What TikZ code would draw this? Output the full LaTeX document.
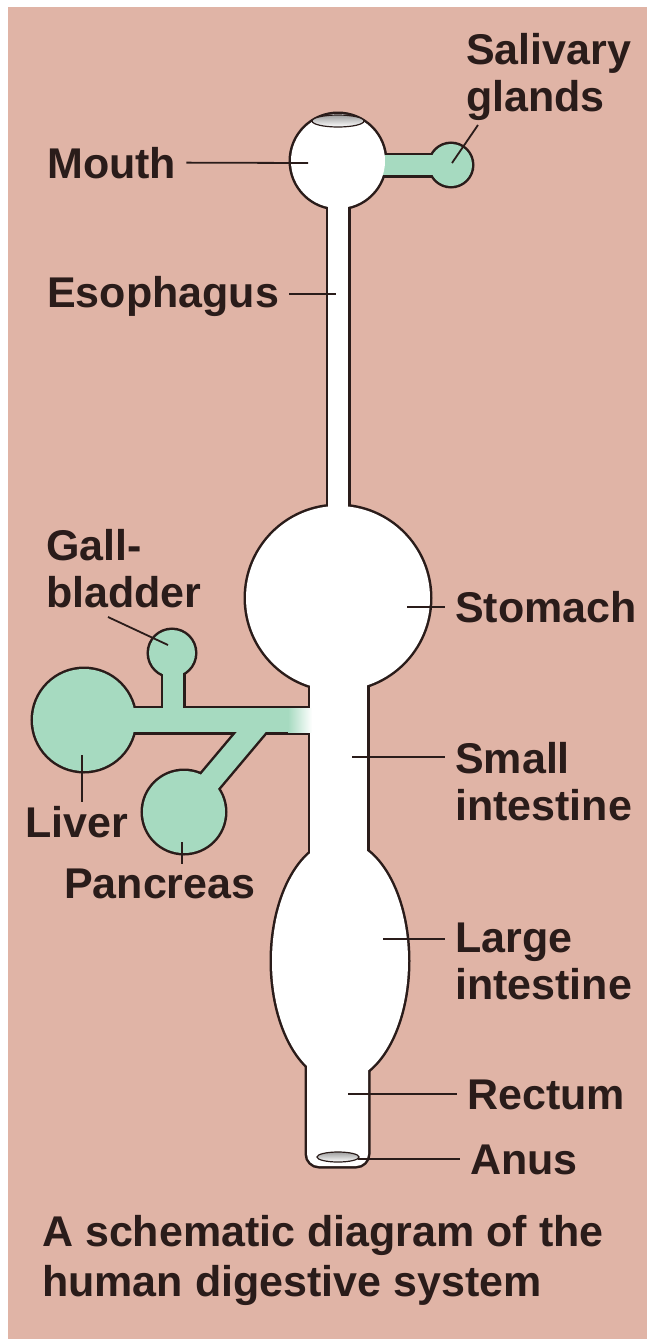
\documentclass[tikz,border=0pt]{standalone}
\usepackage{fontspec}
\setmainfont{Liberation Sans}
\usetikzlibrary{positioning}

\definecolor{skin}{RGB}{224,180,166}
\definecolor{duct}{RGB}{166,218,192}
\definecolor{ink}{RGB}{42,28,26}

\begin{document}
\begin{tikzpicture}[x=1pt, y=-1pt,
  wall/.style={draw=ink, line width=5pt},
  cavity/.style={fill=white},
  gland/.style={fill=duct},
  hole/.style={draw=ink, line width=1.2pt, top color=gray!75, bottom color=white},
  lbl/.style={font=\fontsize{43}{47}\selectfont\bfseries, text=ink, inner xsep=10pt, inner ysep=4pt, align=left},
  lead/.style={draw=ink, line width=1.8pt}]
\useasboundingbox (0,0) rectangle (647,1339);
\fill[white] (0,0) rectangle (647,1339);
\fill[skin] (8,7) rectangle (647,1339);

% outlines first, the fills below cover their inner half
\draw[wall] (338,161) circle (47);
\draw[wall] (328,190) rectangle (348,520);
\draw[wall] (338,598) circle (92);
\draw[wall] (310,660) rectangle (367,880);
\draw[wall] (340,961) ellipse (68 and 120);
\draw[wall, rounded corners=12] (307,1040) rectangle (368,1166);
\draw[wall] (375,155) rectangle (435,175);
\draw[wall] (451,165) circle (21);
\draw[wall] (84,720) circle (51);
\draw[wall] (120,708) rectangle (312,732);
\draw[wall] (172,653) circle (23);
\draw[wall] (163,660) rectangle (183,715);
\draw[wall] (184,812) circle (41);
\draw[draw=ink, line width=27pt] (258,724) -- (184,812);

% glands and ducts
\fill[gland] (375,155) rectangle (435,175);
\fill[gland] (451,165) circle (21);
\fill[gland] (84,720) circle (51);
\fill[gland] (120,708) rectangle (312,732);
\fill[gland] (172,653) circle (23);
\fill[gland] (163,660) rectangle (183,715);
\fill[gland] (184,812) circle (41);
\draw[draw=duct, line width=22pt] (258,724) -- (184,812);

% the tract
\fill[cavity] (338,161) circle (47);
\fill[cavity] (328,190) rectangle (348,520);
\fill[cavity] (338,598) circle (92);
\fill[cavity] (310,660) rectangle (367,880);
\fill[cavity] (340,961) ellipse (68 and 120);
\fill[cavity, rounded corners=12] (307,1040) rectangle (368,1166);
\shade[left color=duct, right color=white] (288,708) rectangle (312,732);

\draw[hole] (338,121) ellipse (26 and 6);
\draw[hole] (338,1157) ellipse (21 and 5);

% labels
\coordinate (mouth-in) at (308,163);
\coordinate (gland-in) at (452,163);
\coordinate (gland-out) at (478,125);
\coordinate (eso-in) at (336,294);
\coordinate (gall-in) at (168,645);
\coordinate (gall-out) at (108,617);
\coordinate (sto-in) at (407,607);
\coordinate (liver-in) at (82,755);
\coordinate (panc-in) at (182,842);
\coordinate (small-in) at (352,757);
\coordinate (large-in) at (383,939);
\coordinate (rect-in) at (348,1094);
\coordinate (anus-in) at (358,1159);

\node[lbl, anchor=base west] (mouth) at (37,178) {Mouth};
\node[lbl, anchor=north west] (saliv) at (456,29) {Salivary\\glands};
\node[lbl, anchor=base west] (eso) at (37,307) {Esophagus};
\node[lbl, anchor=north west] (gall) at (36,525) {Gall-\\bladder};
\node[lbl, anchor=base west] (stomach) at (445,622) {Stomach};
\node[lbl, anchor=base west] (liver) at (15,837) {Liver};
\node[lbl, anchor=base west] (panc) at (54,898) {Pancreas};
\node[lbl, anchor=north west] (small) at (445,738) {Small\\intestine};
\node[lbl, anchor=north west] (large) at (445,919) {Large\\intestine};
\node[lbl, anchor=base west] (rectum) at (457,1109) {Rectum};
\node[lbl, anchor=base west] (anus) at (460,1174) {Anus};
\node[lbl, font=\fontsize{43}{50}\selectfont\bfseries, anchor=north west] (caption) at (32,1211) {A schematic diagram of the\\human digestive system};

\draw[lead] (mouth.east) -- (mouth-in);
\draw[lead] (gland-in) -- (gland-out);
\draw[lead] (eso-in -| eso.east) -- (eso-in);
\draw[lead] (gall-out) -- (gall-in);
\draw[lead] (sto-in) -- (sto-in -| stomach.west);
\draw[lead] (liver-in) -- (liver-in |- liver.north);
\draw[lead] (panc-in) -- (panc-in |- panc.north);
\draw[lead] (small-in) -- (small-in -| small.west);
\draw[lead] (large-in) -- (large-in -| large.west);
\draw[lead] (rect-in) -- (rect-in -| rectum.west);
\draw[lead] (anus-in) -- (anus-in -| anus.west);
\end{tikzpicture}
\end{document}
